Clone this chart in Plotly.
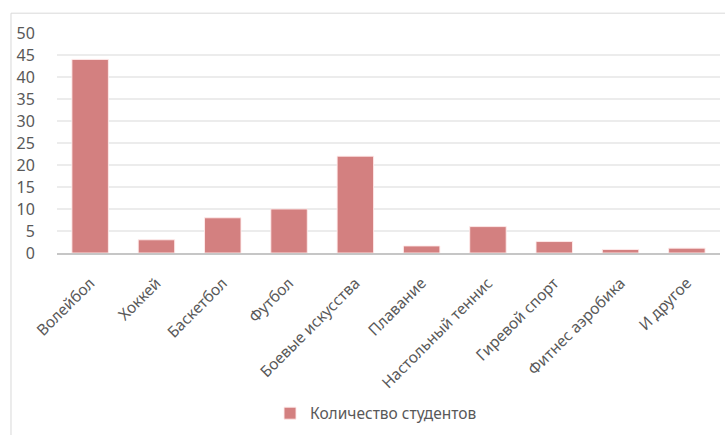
import plotly.graph_objects as go

categories = ["Волейбол", "Хоккей", "Баскетбол", "Футбол", "Боевые искусства",
              "Плавание", "Настольный теннис", "Гиревой спорт", "Фитнес аэробика", "И другое"]
students = [44, 3, 8, 10, 22, 1.6, 6, 2.6, 0.8, 1.1]
series_name = "Количество студентов"
y_ticks = [0, 5, 10, 15, 20, 25, 30, 35, 40, 45, 50]

FONT = "Noto Sans"
TXT = "#595959"

fig = go.Figure()
fig.add_trace(go.Bar(
    x=categories, y=students, name=series_name,
    marker=dict(color="rgb(211,128,128)", line=dict(color="rgba(255,235,235,0.9)", width=1)),
    showlegend=True,
))

fig.update_layout(
    width=725, height=435,
    margin=dict(l=57, r=5, t=33, b=180),
    paper_bgcolor="white", plot_bgcolor="white",
    bargap=0.45,
    font=dict(family=FONT, size=15.5, color=TXT),
    showlegend=True,
    legend=dict(orientation="h", x=0.3213, y=-0.73, xanchor="left", yanchor="middle",
                font=dict(family=FONT, size=15.5, color=TXT), itemwidth=30),
    xaxis=dict(tickangle=-45, showgrid=False, showline=True, linecolor="#c6c6c6", linewidth=2,
               ticks="", tickfont=dict(family=FONT, size=15.5, color=TXT),
               ticklabelstandoff=13, fixedrange=True),
    yaxis=dict(range=[0, 50], tickvals=y_ticks, showgrid=True, gridcolor="#ececec", gridwidth=1.5,
               zeroline=False, showline=False, ticks="outside", ticklen=18, tickcolor="rgba(0,0,0,0)",
               tickfont=dict(family=FONT, size=16, color=TXT), fixedrange=True),
    shapes=[
        dict(type="rect", xref="paper", yref="paper", x0=-0.0694, x1=1.02, y0=-0.85, y1=1.0901,
             line=dict(color="#d9d9d9", width=1), fillcolor="rgba(0,0,0,0)", layer="below"),
    ],
)

fig.write_html("out.html")
